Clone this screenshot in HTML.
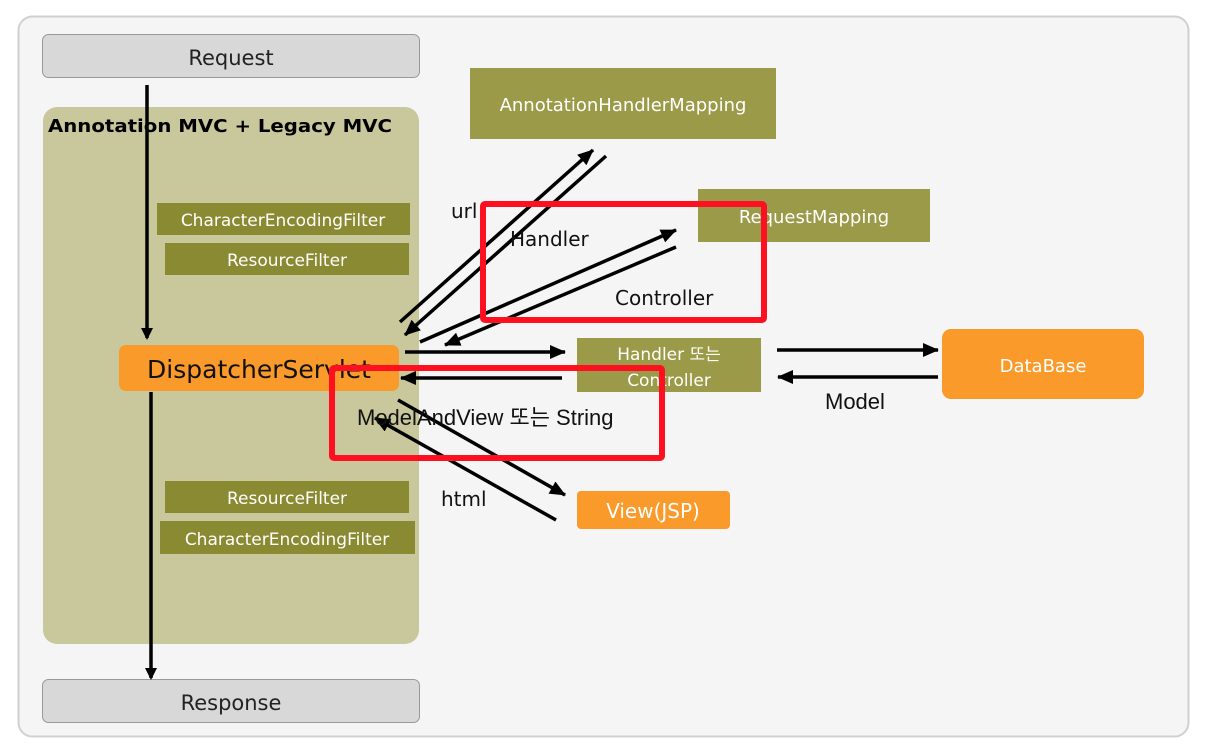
<!DOCTYPE html>
<html><head><meta charset="utf-8"><style>
body{margin:0;background:#fff;}
svg{display:block;font-family:"DejaVu Sans","Noto Sans CJK KR",sans-serif;}
</style></head><body>
<svg width="1206" height="752" viewBox="0 0 1206 752">
<defs><marker id="a" markerWidth="12" markerHeight="12" refX="10" refY="6" orient="auto" markerUnits="userSpaceOnUse" viewBox="0 0 12 12"><path d="M0,0 L12,6 L0,12 z" fill="#000"/></marker>
<marker id="b" markerWidth="16" markerHeight="14" refX="15" refY="7" orient="auto" markerUnits="userSpaceOnUse" viewBox="0 0 16 14"><path d="M0,0 L16,7 L0,14 z" fill="#000"/></marker></defs>
<rect x="18.5" y="16.5" width="1170" height="720" rx="14" fill="#f5f5f5" stroke="#d0d0d0" stroke-width="2"/>
<rect x="42.5" y="34.5" width="377" height="43" rx="6" fill="#d8d8d8" stroke="#999"/>
<text x="231" y="65" font-size="21" text-anchor="middle" fill="#222">Request</text>
<rect x="42.5" y="679.5" width="377" height="43" rx="6" fill="#d8d8d8" stroke="#999"/>
<text x="231" y="710" font-size="21" text-anchor="middle" fill="#222">Response</text>
<rect x="43" y="107" width="376" height="537" rx="14" fill="#c8c89c"/>
<text x="48" y="132" font-size="18" font-weight="bold" fill="#000" textLength="344" lengthAdjust="spacingAndGlyphs">Annotation MVC + Legacy MVC</text>
<g fill="#8a8a32"><rect x="157" y="203" width="253" height="32"/><rect x="165" y="243" width="244" height="32"/><rect x="165" y="481" width="244" height="32"/><rect x="160" y="521" width="255" height="33"/></g>
<g font-size="17" fill="#fff" text-anchor="middle"><text x="283" y="226">CharacterEncodingFilter</text><text x="287" y="266">ResourceFilter</text><text x="287" y="504">ResourceFilter</text><text x="287" y="545">CharacterEncodingFilter</text></g>
<rect x="119" y="345" width="280" height="46" rx="7" fill="#f99a2a"/>
<text x="259" y="378" font-size="25" text-anchor="middle" fill="#111">DispatcherServlet</text>
<rect x="470" y="68" width="306" height="71" fill="#9b9a48"/>
<text x="623" y="111" font-size="18" text-anchor="middle" fill="#fff">AnnotationHandlerMapping</text>
<rect x="698" y="189" width="232" height="53" fill="#9b9a48"/>
<text x="814" y="223" font-size="18" text-anchor="middle" fill="#fff">RequestMapping</text>
<rect x="577" y="338" width="184" height="54" fill="#9b9a48"/>
<text x="669" y="360" font-size="17" text-anchor="middle" fill="#fff">Handler 또는</text>
<text x="669" y="386" font-size="17" text-anchor="middle" fill="#fff">Controller</text>
<rect x="942" y="329" width="202" height="70" rx="9" fill="#f99a2a"/>
<text x="1043" y="372" font-size="18" text-anchor="middle" fill="#fff">DataBase</text>
<rect x="577" y="491" width="153" height="38" rx="4" fill="#f99a2a"/>
<text x="653" y="518" font-size="20" text-anchor="middle" fill="#fff">View(JSP)</text>
<g stroke="#000" stroke-width="3.5" fill="none">
<line x1="147" y1="85" x2="147" y2="338" marker-end="url(#a)"/>
<line x1="151" y1="392" x2="151" y2="678" marker-end="url(#a)"/>
<line x1="400" y1="322" x2="593" y2="150" marker-end="url(#b)"/>
<line x1="606" y1="156" x2="405" y2="335" marker-end="url(#b)"/>
<line x1="420" y1="342" x2="676" y2="230" marker-end="url(#b)"/>
<line x1="676" y1="247" x2="445" y2="345" marker-end="url(#b)"/>
<line x1="405" y1="352" x2="565" y2="352" marker-end="url(#b)"/>
<line x1="562" y1="378" x2="401" y2="378" marker-end="url(#b)"/>
<line x1="398" y1="400" x2="565" y2="495" marker-end="url(#b)"/>
<line x1="556" y1="520" x2="375" y2="418" marker-end="url(#b)"/>
<line x1="777" y1="350" x2="938" y2="350" marker-end="url(#b)"/>
<line x1="938" y1="377" x2="778" y2="377" marker-end="url(#b)"/>
</g>
<g font-size="20" fill="#111"><text x="451" y="218">url</text><text x="510" y="246">Handler</text><text x="615" y="305">Controller</text><text x="441" y="506">html</text></g>
<g font-family="Liberation Sans, Noto Sans CJK KR, sans-serif" font-size="22" fill="#111"><text x="357" y="425">ModelAndView 또는 String</text><text x="825" y="409">Model</text></g>
<g fill="none" stroke="#ff1020" stroke-width="6"><rect x="483" y="204" width="281" height="116" rx="2"/><rect x="332" y="368" width="330" height="90" rx="2"/></g>
</svg>
</body></html>
